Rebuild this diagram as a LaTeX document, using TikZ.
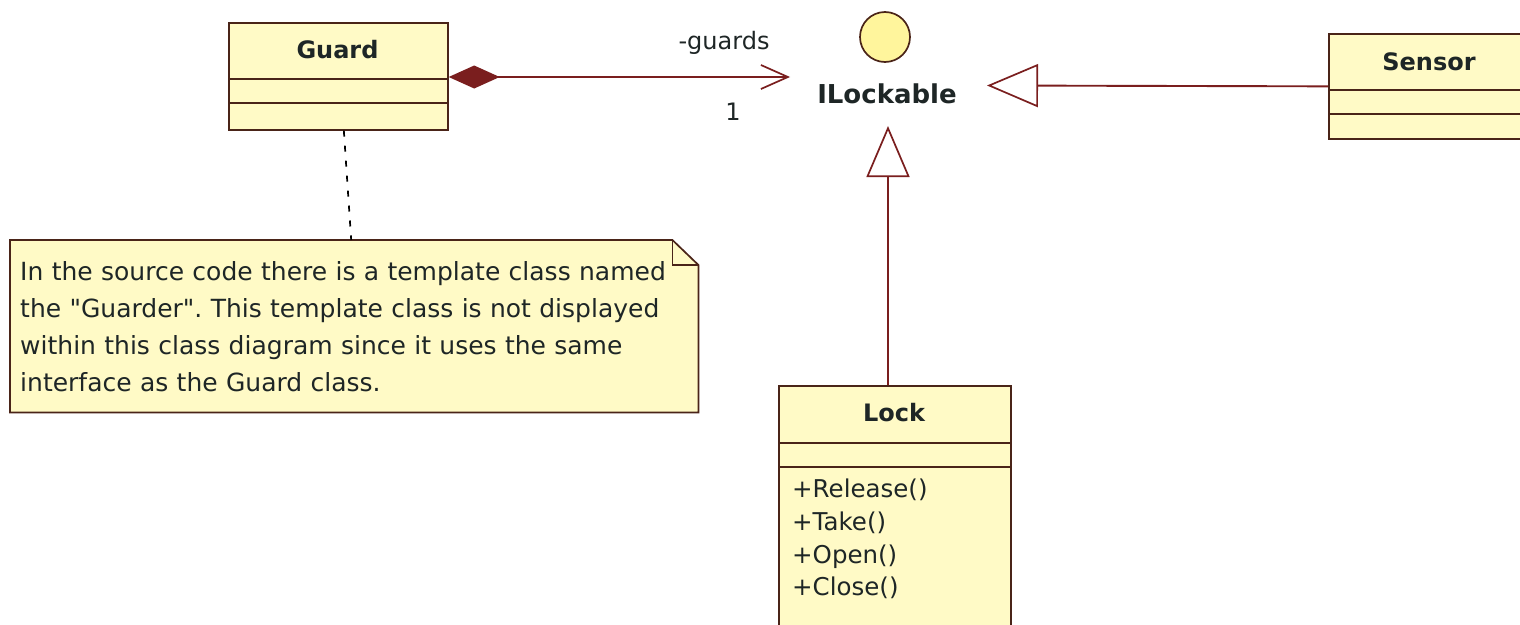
\documentclass[tikz,border=0pt]{standalone}
\usepackage{fontspec}
\setmainfont{DejaVu Sans}
\usetikzlibrary{arrows.meta,calc,backgrounds}
\frenchspacing
\definecolor{boxfill}{HTML}{FFFAC6}
\definecolor{circfill}{HTML}{FFF59C}
\definecolor{edgec}{HTML}{4A2418}
\definecolor{connc}{HTML}{7A1E1E}
\definecolor{ink}{HTML}{1E2626}
\newcommand{\titlefont}{\fontsize{24}{28}\selectfont\bfseries}
\newcommand{\bodyfont}{\fontsize{25}{37}\selectfont}
\newcommand{\opsfont}{\fontsize{24.5}{32.7}\selectfont}
\begin{document}
\begin{tikzpicture}[x=1pt,y=-1pt,
  every node/.style={text=ink},
  classbox/.style={draw=edgec, fill=boxfill, line width=1.7pt, rectangle, inner sep=0pt, anchor=north west},
  divider/.style={draw=edgec, line width=1.7pt},
  classname/.style={font=\titlefont},
  conn/.style={draw=connc, line width=1.9pt},
  genline/.style={conn, -{Triangle[open, length=51pt, width=43pt, fill=white, line width=1.7pt]}},
  compline/.style={conn, {Diamond[length=51pt, width=23pt, fill=connc, color=connc]}-{Straight Barb[length=27pt, width=24pt, line width=1.7pt]}},
  noteline/.style={draw=black, line width=1.7pt, dash pattern=on 6pt off 9pt},
  lbl/.style={font=\fontsize{24}{28}\selectfont}
]
\useasboundingbox (0,0) rectangle (1520,624);
\clip (0,0) rectangle (1520,624);

% Guard
\node[classbox, minimum width=219pt, minimum height=107pt] (guard) at (228,22) {};
\draw[divider] (guard.west |- 0,79) -- (guard.east |- 0,79);
\draw[divider] (guard.west |- 0,103) -- (guard.east |- 0,103);
\node[classname] (guardname) at (337.5,50) {Guard};

% Sensor
\node[classbox, minimum width=212pt, minimum height=105pt] (sensor) at (1328,33) {};
\draw[divider] (sensor.west |- 0,90) -- (sensor.east |- 0,90);
\draw[divider] (sensor.west |- 0,114) -- (sensor.east |- 0,114);
\node[classname] (sensorname) at (1429,62) {Sensor};

% Lock
\node[classbox, minimum width=232pt, minimum height=260pt] (lock) at (778,385) {};
\draw[divider] (lock.west |- 0,443) -- (lock.east |- 0,443);
\draw[divider] (lock.west |- 0,467) -- (lock.east |- 0,467);
\node[classname] (lockname) at (894,413) {Lock};
\node[anchor=north west, align=left, inner sep=0pt, font=\opsfont] (ops) at (792,479)
  {+Release()\\+Take()\\+Open()\\+Close()};

% Interface
\node[circle, draw=edgec, fill=circfill, minimum size=50pt, line width=1.7pt, inner sep=0pt] (iface) at (885,37) {};
\node[font=\fontsize{26}{30}\selectfont\bfseries] (ilock) at (887,94) {ILockable};

% Note
\node[anchor=north west, minimum width=688pt, minimum height=172pt, text width=668pt,
      inner xsep=10pt, inner ysep=0pt, align=left, font=\bodyfont] (note) at (10,240)
  {In the source code there is a template class named\\
   the \textquotedbl Guarder\textquotedbl. This template class is not displayed\\
   within this class diagram since it uses the same\\
   interface as the Guard class.};
\begin{pgfonlayer}{background}
\fill[white] (0,0) rectangle (1520,624);
\draw[draw=edgec, fill=boxfill, line width=1.7pt]
  (note.north west) -- ($(note.north east)+(-26,0)$) coordinate (fold)
  -- ($(note.north east)+(0,25)$) coordinate (foldb)
  -- (note.south east) -- (note.south west) -- cycle;
\draw[draw=edgec, line width=1.7pt] (fold) -- ($(fold)+(0,25)$) -- (foldb);
\end{pgfonlayer}

% Connectors
\coordinate (gend) at (790,77);
\draw[compline] (guard.east |- gend) -- (gend);
\node[lbl] (role) at (724,43) {-guards};
\node[lbl] (mult) at (733,112) {1};

\coordinate (rtip) at (987,85.5);
\draw[genline] (sensor.west) -- (rtip);

\coordinate (utip) at (888,126);
\draw[genline] (lock.north -| utip) -- (utip);

\draw[noteline] ([xshift=5.5pt]guard.south) -- ([xshift=-3pt]note.north);
\end{tikzpicture}
\end{document}
